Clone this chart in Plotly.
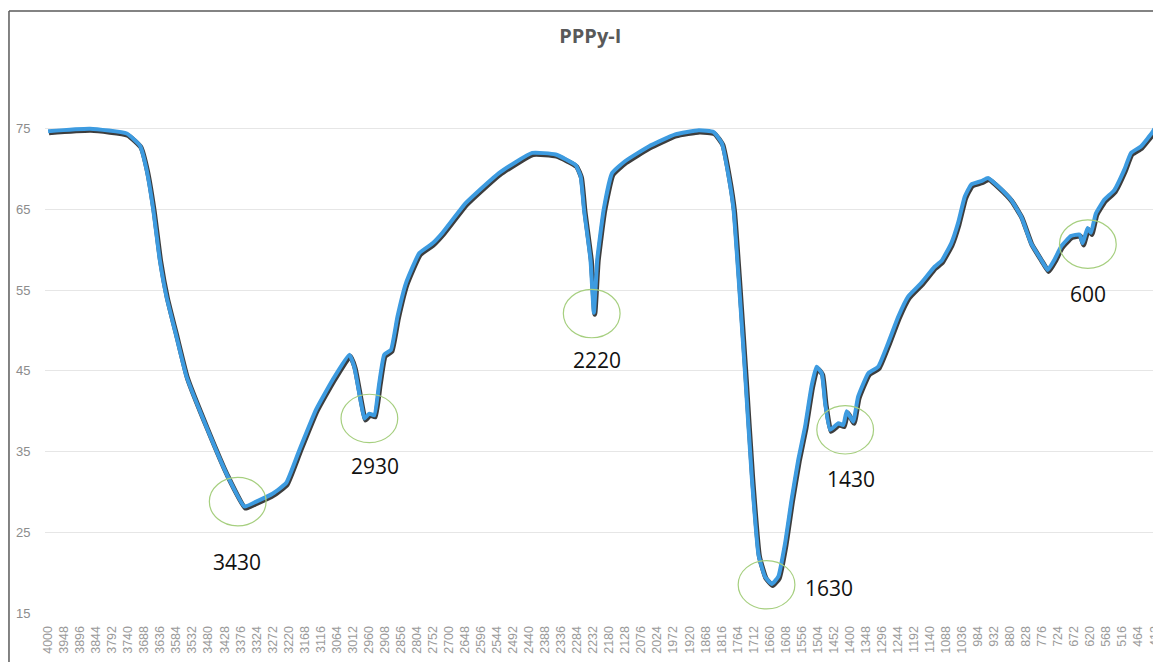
import plotly.graph_objects as go

# ---- data ----
wavenumber = [4000, 3864, 3745, 3702, 3681, 3659, 3638, 3616, 3584, 3551, 3487, 3422, 3363,
              3325, 3271, 3228, 3185, 3131, 3077, 3023, 3007, 2985, 2974, 2958, 2942, 2926,
              2910, 2888, 2867, 2839, 2796, 2753, 2721, 2645, 2538, 2430, 2354, 2289, 2273,
              2262, 2241, 2230, 2219, 2198, 2171, 2128, 2052, 1966, 1890, 1842, 1815, 1793,
              1777, 1761, 1739, 1718, 1696, 1675, 1653, 1632, 1610, 1589, 1567, 1545, 1524,
              1508, 1491, 1480, 1464, 1437, 1421, 1410, 1389, 1373, 1340, 1308, 1276, 1243,
              1211, 1168, 1125, 1103, 1071, 1049, 1027, 1006, 974, 952, 920, 877, 844, 812,
              780, 758, 736, 715, 683, 655, 645, 629, 618, 602, 575, 542, 510, 488, 456, 418, 412]
transmittance = [74.7, 75.0, 74.4, 72.9, 70.0, 65.0, 58.8, 54.2, 49.3, 44.3, 38.1, 32.3, 28.2,
                 28.8, 29.8, 31.1, 35.2, 40.2, 43.9, 47.0, 45.5, 41.0, 39.1, 39.7, 39.5, 43.5,
                 47.0, 47.6, 51.7, 55.9, 59.6, 60.8, 62.1, 65.8, 69.5, 72.0, 71.8, 70.5, 69.1,
                 65.0, 58.8, 52.2, 58.8, 65.0, 69.5, 71.0, 72.8, 74.3, 74.8, 74.6, 73.2, 69.1,
                 65.0, 56.7, 44.3, 31.9, 22.2, 19.5, 18.6, 19.5, 23.6, 29.0, 34.0, 38.1, 43.1,
                 45.5, 44.7, 41.0, 37.7, 38.5, 38.3, 40.0, 38.7, 41.8, 44.7, 45.5, 48.4, 51.7,
                 54.2, 55.9, 57.9, 58.6, 60.8, 63.3, 66.6, 68.1, 68.5, 68.9, 67.9, 66.2, 64.1,
                 60.8, 58.8, 57.5, 58.8, 60.4, 61.7, 61.9, 60.8, 62.7, 62.1, 64.5, 66.2, 67.4,
                 69.9, 72.0, 72.8, 74.6, 75.0]

tick_labels = list(range(4000, 411, -52))
y_ticks = [15, 25, 35, 45, 55, 65, 75]

peak_labels = ["3430", "2930", "2220", "1630", "1430", "600"]
circle_x = [3385, 2958, 2237, 1670, 1415, 628]
circle_y = [28.8, 39.1, 52.1, 18.5, 37.7, 60.7]
label_x = [3388, 2939, 2220, 1468, 1395, 629]
label_y = [21.3, 33.2, 46.4, 18.1, 31.6, 54.5]

title_text = "PPPy-I"

X_RANGE = [4010, 394]
Y_RANGE = [15, 85]

# ---- figure ----
fig = go.Figure()

# dark shadow under the line (overlay axes shifted slightly so it sits lower-right)
fig.add_trace(go.Scatter(x=wavenumber, y=transmittance, mode="lines",
                         line=dict(color="#1c1c1c", width=5, shape="spline", smoothing=0.4),
                         opacity=0.85, xaxis="x2", yaxis="y2", hoverinfo="skip", showlegend=False))
# blue line on top (overlay axes with the same ranges as the main ones)
fig.add_trace(go.Scatter(x=wavenumber, y=transmittance, mode="lines",
                         line=dict(color="#3d9be0", width=4, shape="spline", smoothing=0.4),
                         xaxis="x3", yaxis="y3", showlegend=False))

shapes = []
rx, ry = 92, 3.0
for cx, cy in zip(circle_x, circle_y):
    shapes.append(dict(type="circle", xref="x", yref="y",
                       x0=cx + rx, x1=cx - rx, y0=cy - ry, y1=cy + ry,
                       line=dict(color="#a6cf7f", width=1.2), layer="above"))
# chart frame (left and top edges)
shapes.append(dict(type="line", xref="paper", yref="paper", x0=-0.0323, x1=-0.0323,
                   y0=-0.1, y1=1.0655, line=dict(color="#5a5a5a", width=1.5)))
shapes.append(dict(type="line", xref="paper", yref="paper", x0=-0.0323, x1=1.01,
                   y0=1.0655, y1=1.0655, line=dict(color="#5a5a5a", width=1.5)))

annotations = []
for t, lx, ly in zip(peak_labels, label_x, label_y):
    annotations.append(dict(x=lx, y=ly, xref="x", yref="y", text=t, showarrow=False,
                            font=dict(family="Open Sans, Liberation Sans, sans-serif",
                                      size=21, color="#111111")))

fig.update_layout(
    width=1153, height=654,
    margin=dict(l=37, r=1, t=40, b=49),
    paper_bgcolor="white", plot_bgcolor="white",
    title=dict(text="<b>%s</b>" % title_text, x=0.505, xanchor="center", y=0.957, yanchor="middle",
               font=dict(family="Open Sans, Liberation Sans, sans-serif", size=20, color="#595959")),
    xaxis=dict(range=X_RANGE, tickmode="array", tickvals=tick_labels,
               ticktext=[str(v) for v in tick_labels], tickangle=-90,
               tickfont=dict(family="Liberation Sans, sans-serif", size=12.5, color="#9a9a9a"),
               showgrid=False, zeroline=False, showline=False, ticks="outside",
               ticklen=7, tickcolor="rgba(0,0,0,0)", automargin=False,
               ticklabeloverflow="allow"),
    xaxis2=dict(range=[X_RANGE[0] + 3, X_RANGE[1] + 3], overlaying="x", visible=False),
    xaxis3=dict(range=X_RANGE, overlaying="x", visible=False),
    yaxis=dict(range=Y_RANGE, tickmode="array", tickvals=y_ticks,
               tickfont=dict(family="Liberation Sans, sans-serif", size=13, color="#8c8c8c"),
               showgrid=True, gridcolor="#e6e6e6", gridwidth=1.3, zeroline=False,
               showline=False, ticks="outside", ticklen=11, tickcolor="rgba(0,0,0,0)",
               automargin=False),
    yaxis2=dict(range=[Y_RANGE[0] + 0.2, Y_RANGE[1] + 0.2], overlaying="y", visible=False),
    yaxis3=dict(range=Y_RANGE, overlaying="y", visible=False),
    shapes=shapes, annotations=annotations,
)

fig.write_html("out.html")
